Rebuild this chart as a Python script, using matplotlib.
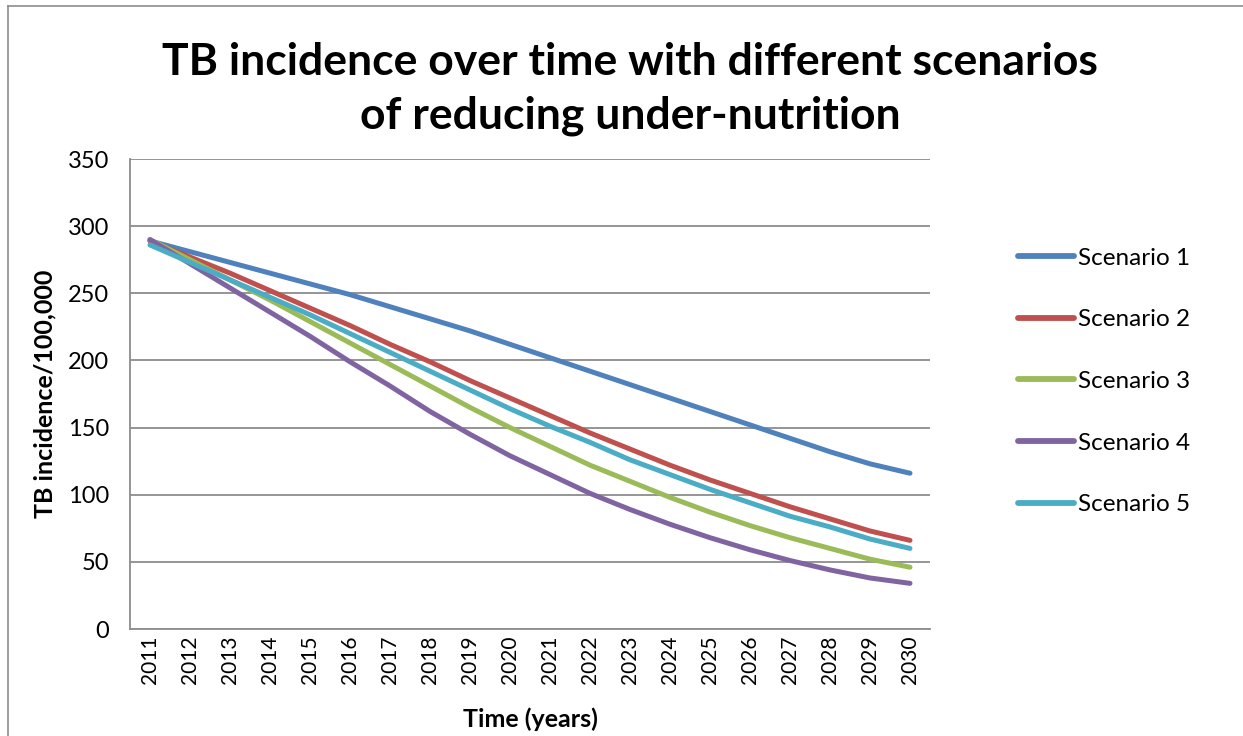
import matplotlib
matplotlib.use("Agg")
import matplotlib.pyplot as plt
from matplotlib.lines import Line2D

years = [str(y) for y in range(2011, 2031)]
scenario_1 = [289, 281, 273, 265, 257, 249, 240, 231, 222, 212, 202, 192, 182, 172, 162, 152, 142, 132, 123, 116]
scenario_2 = [289, 277, 265, 252, 239, 226, 212, 199, 185, 172, 159, 146, 134, 122, 111, 101, 91, 82, 73, 66]
scenario_3 = [290, 275, 260, 245, 229, 213, 197, 181, 165, 150, 136, 122, 110, 98, 87, 77, 68, 60, 52, 46]
scenario_4 = [290, 272, 254, 236, 218, 199, 181, 162, 145, 129, 115, 101, 89, 78, 68, 59, 51, 44, 38, 34]
scenario_5 = [286, 273, 260, 247, 234, 220, 206, 192, 178, 164, 151, 139, 126, 115, 104, 94, 84, 76, 67, 60]
series_names = ["Scenario 1", "Scenario 2", "Scenario 3", "Scenario 4", "Scenario 5"]
series = [scenario_1, scenario_2, scenario_3, scenario_4, scenario_5]
colors = ["#4F81BD", "#C0504D", "#9BBB59", "#8064A2", "#4BACC6"]
yticks = [0, 50, 100, 150, 200, 250, 300, 350]

plt.rcParams['font.family'] = ['Lato', 'DejaVu Sans']

W, H = 1243, 736
fig = plt.figure(figsize=(W / 100, H / 100), dpi=100)

# outer chart frame
fig.add_artist(Line2D([8 / W, 8 / W], [0, 1 - 6 / H], transform=fig.transFigure, color="#8C8C8C", lw=1.2))
fig.add_artist(Line2D([8 / W, 1], [1 - 6 / H, 1 - 6 / H], transform=fig.transFigure, color="#8C8C8C", lw=1.2))

left, right, top, bottom = 130, 930, 159, 629
ax = fig.add_axes([left / W, 1 - bottom / H, (right - left) / W, (bottom - top) / H])

x = list(range(len(years)))
for name, vals, c in zip(series_names, series, colors):
    ax.plot(x, vals, color=c, lw=3.6, solid_capstyle="round", solid_joinstyle="round", label=name)

ax.set_xlim(-0.5, len(years) - 0.5)
ax.set_ylim(0, 350)
ax.set_yticks(yticks)
ax.set_yticklabels([str(v) for v in yticks], fontsize=17)
ax.set_xticks(x)
ax.set_xticklabels(years, rotation=90, fontsize=15)
ax.grid(axis="y", color="#8C8C8C", lw=1.3)
ax.set_axisbelow(True)
for s in ["top", "right"]:
    ax.spines[s].set_visible(False)
for s in ["left", "bottom"]:
    ax.spines[s].set_color("#8C8C8C")
    ax.spines[s].set_linewidth(1.3)
ax.tick_params(axis="y", length=0, pad=15)
ax.tick_params(axis="x", length=0, pad=5)

ax.set_ylabel("TB incidence/100,000", fontsize=18, fontweight="bold")
ax.set_xlabel("Time (years)", fontsize=18, fontweight="bold")
ax.yaxis.set_label_coords((45 - left) / (right - left), 0.5)
ax.yaxis.label.set_va("center")
ax.xaxis.set_label_coords(0.5, (bottom - 719) / (bottom - top))
ax.xaxis.label.set_va("center")

fig.text(630 / W, 1 - 62 / H, "TB incidence over time with different scenarios", ha="center", va="center",
         fontsize=32, fontweight="bold")
fig.text(630 / W, 1 - 116 / H, "of reducing under-nutrition", ha="center", va="center",
         fontsize=32, fontweight="bold")

leg = fig.legend(loc="upper left", bbox_to_anchor=(1008 / W, 1 - 238 / H), frameon=False, fontsize=17.5,
                 handlelength=2.3, handletextpad=0.2, labelspacing=1.67, borderaxespad=0)
for h in leg.get_lines():
    h.set_linewidth(4.2)

fig.savefig("out.png", dpi=100)
